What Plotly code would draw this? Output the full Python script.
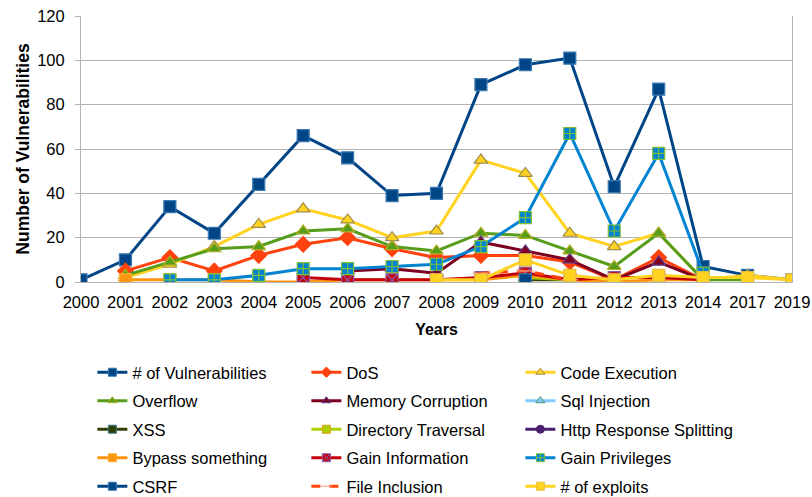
import plotly.graph_objects as go

# Years on the category axis
years = ["2000", "2001", "2002", "2003", "2004", "2005", "2006", "2007", "2008",
         "2009", "2010", "2011", "2012", "2013", "2014", "2017", "2019"]

N = None
vulnerabilities = [1, 10, 34, 22, 44, 66, 56, 39, 40, 89, 98, 101, 43, 87, 7, 3, 1]
dos = [N, 5, 11, 5, 12, 17, 20, 15, 11, 12, 12, 9, 1, 11, 1, N, N]
code_execution = [N, 2, 8, 16, 26, 33, 28, 20, 23, 55, 49, 22, 16, 22, 1, 3, 1]
overflow = [N, 3, 9, 15, 16, 23, 24, 16, 14, 22, 21, 14, 7, 22, 1, 1, N]
memory_corruption = [N, N, N, N, N, N, 5, 6, 4, 18, 14, 10, 1, 9, 1, N, N]
sql_injection = [N, N, N, N, N, N, N, N, N, N, 2, 1, N, N, N, N, N]
xss = [N, N, N, N, N, N, N, N, N, N, 1, 1, N, N, N, N, N]
directory_traversal = [N, N, N, N, N, N, N, N, N, N, 2, 1, N, N, N, N, N]
http_response_splitting = [N, N, N, N, N, N, N, N, N, N, 1, N, N, N, N, N, N]
bypass_something = [N, 1, 1, 1, 0, 0, 1, 1, 1, 1, 3, 1, 0, 1, 1, N, N]
gain_information = [N, N, N, N, N, 2, 1, 1, 1, 2, 4, 1, 2, 2, 1, N, N]
gain_privileges = [N, N, 1, 1, 3, 6, 6, 7, 8, 16, 29, 67, 23, 58, 4, N, N]
csrf = [N, N, N, N, N, N, N, N, N, N, 1, N, N, N, N, N, N]
file_inclusion = [N, N, N, N, N, N, N, N, N, 4, 5, 1, N, N, N, N, N]
exploits = [N, N, N, N, N, N, N, N, 1, 1, 10, 3, 1, 3, 2, 2, 1]

# name, values, line colour, marker symbol, marker outline colour, legend row
series = [
    ("# of Vulnerabilities", vulnerabilities, "#004586", "square", "#3b78b0", "legend"),
    ("DoS", dos, "#ff420e", "diamond", "#ff420e", "legend"),
    ("Code Execution", code_execution, "#ffd320", "triangle-up", "#a08c50", "legend"),
    ("Overflow", overflow, "#579d1c", "triangle-up", "#b5b020", "legend2"),
    ("Memory Corruption", memory_corruption, "#7e0021", "triangle-up", "#5a3a8a", "legend2"),
    ("Sql Injection", sql_injection, "#83caff", "triangle-up", "#4a9a6a", "legend2"),
    ("XSS", xss, "#314004", "square", "#3a7a8a", "legend3"),
    ("Directory Traversal", directory_traversal, "#aecf00", "square", "#e0a020", "legend3"),
    ("Http Response Splitting", http_response_splitting, "#4b1f6f", "circle", "#4b1f6f", "legend3"),
    ("Bypass something", bypass_something, "#ff950e", "square", "#ffb030", "legend4"),
    ("Gain Information", gain_information, "#c5000b", "square-x", "#8a5aa8", "legend4"),
    ("Gain Privileges", gain_privileges, "#0084d1", "square-cross", "#7ec03a", "legend4"),
    ("CSRF", csrf, "#004586", "square", "#3b78b0", "legend5"),
    ("File Inclusion", file_inclusion, "#ff420e", "line-ew", "#ff9a7a", "legend5"),
    ("# of exploits", exploits, "#ffd320", "square", "#e8c040", "legend5"),
]

fig = go.Figure()
for name, vals, color, symbol, edge, leg in series:
    dash = "dash" if name == "File Inclusion" else "solid"
    # plotted series
    fig.add_trace(go.Scatter(
        x=years, y=vals, name=name, mode="lines+markers", showlegend=False,
        line=dict(color=color, width=3, dash=dash),
        marker=dict(symbol=symbol, size=12, color=color,
                    line=dict(color=edge, width=1.2)),
        connectgaps=False,
    ))
    # legend key with a smaller symbol (no data drawn)
    fig.add_trace(go.Scatter(
        x=[years[0]], y=[None], name=name, mode="lines+markers", legend=leg,
        line=dict(color=color, width=3, dash=dash),
        marker=dict(symbol=symbol, size=8, color=color,
                    line=dict(color=edge, width=1)),
        hoverinfo="skip",
    ))

FONT = "Liberation Sans, Arial, sans-serif"
plot_top, plot_h = 16, 266
row_centres = [372.5, 401.0, 429.5, 458.0, 486.5]
legend_common = dict(orientation="h", xanchor="left", yanchor="middle",
                     x=0.016, entrywidth=169, entrywidthmode="pixels",
                     font=dict(family=FONT, size=16.5, color="#000000"),
                     bgcolor="rgba(0,0,0,0)")
legends = {}
for i, yc in enumerate(row_centres):
    key = "legend" if i == 0 else f"legend{i + 1}"
    legends[key] = dict(legend_common, y=1 - (yc - plot_top) / plot_h)

fig.update_layout(
    width=812, height=497,
    margin=dict(l=81, r=20, t=plot_top, b=497 - plot_top - plot_h, autoexpand=False),
    paper_bgcolor="white", plot_bgcolor="white",
    font=dict(family=FONT, size=16.5, color="#000000"),
    xaxis=dict(type="category", range=[0, 16], showgrid=False,
               showline=True, linecolor="#b3b3b3", linewidth=1,
               ticks="", tickfont=dict(size=16.5), ticklabelstandoff=5,
               title=dict(text="<b>Years</b>", font=dict(size=16), standoff=14)),
    yaxis=dict(range=[0, 120], dtick=20, gridcolor="#b3b3b3", gridwidth=1,
               showline=True, linecolor="#b3b3b3", mirror=True,
               ticks="outside", ticklen=5, tickcolor="#b3b3b3",
               tickfont=dict(size=16.5), ticklabelstandoff=7, zeroline=False,
               title=dict(text="<b>Number of Vulnerabilities</b>",
                          font=dict(size=17.5), standoff=3)),
    showlegend=True,
    **legends,
)

fig.write_html("out.html")
